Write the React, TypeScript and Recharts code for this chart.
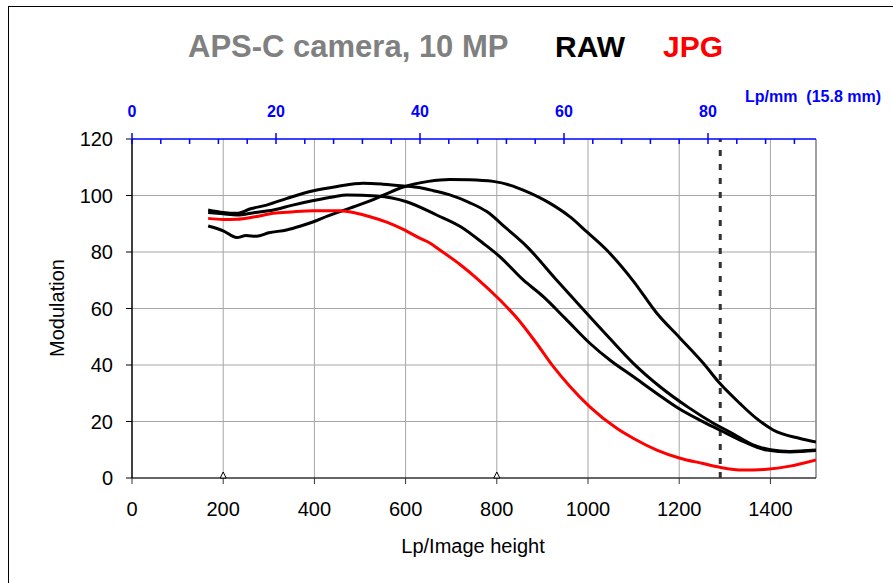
import React from "react";
import { LineChart, Line, XAxis, YAxis, ReferenceLine, ReferenceDot } from "recharts";

// Lp/Image height vs Modulation (%)
const rawLatePeak = [
  { lp: 167, mod: 89.2 }, { lp: 200, mod: 87.5 }, { lp: 230, mod: 85.1 }, { lp: 250, mod: 85.8 },
  { lp: 273, mod: 85.6 }, { lp: 300, mod: 86.8 }, { lp: 339, mod: 87.8 }, { lp: 370, mod: 89.2 },
  { lp: 398, mod: 90.7 }, { lp: 430, mod: 92.8 }, { lp: 456, mod: 94.3 }, { lp: 507, mod: 97.2 },
  { lp: 550, mod: 100.0 }, { lp: 595, mod: 103.0 }, { lp: 650, mod: 105.0 }, { lp: 697, mod: 105.7 },
  { lp: 740, mod: 105.6 }, { lp: 792, mod: 105.0 }, { lp: 830, mod: 103.6 }, { lp: 858, mod: 101.9 },
  { lp: 917, mod: 97.2 }, { lp: 960, mod: 92.5 }, { lp: 997, mod: 87.2 }, { lp: 1041, mod: 80.7 },
  { lp: 1099, mod: 69.8 }, { lp: 1151, mod: 58.3 }, { lp: 1202, mod: 49.5 }, { lp: 1253, mod: 40.6 },
  { lp: 1289, mod: 33.5 }, { lp: 1333, mod: 26.4 }, { lp: 1370, mod: 21.0 }, { lp: 1406, mod: 17.0 },
  { lp: 1465, mod: 14.0 }, { lp: 1500, mod: 12.7 },
];

const rawMidPeak = [
  { lp: 167, mod: 94.9 }, { lp: 200, mod: 94.0 }, { lp: 230, mod: 93.7 }, { lp: 260, mod: 95.3 },
  { lp: 295, mod: 96.6 }, { lp: 340, mod: 99.0 }, { lp: 398, mod: 101.7 }, { lp: 450, mod: 103.2 },
  { lp: 507, mod: 104.3 }, { lp: 550, mod: 104.0 }, { lp: 595, mod: 103.4 }, { lp: 630, mod: 102.8 },
  { lp: 661, mod: 101.7 }, { lp: 697, mod: 100.2 }, { lp: 740, mod: 97.5 }, { lp: 778, mod: 94.3 },
  { lp: 820, mod: 88.5 }, { lp: 866, mod: 81.9 }, { lp: 931, mod: 70.1 }, { lp: 997, mod: 58.3 },
  { lp: 1050, mod: 49.0 }, { lp: 1100, mod: 40.5 }, { lp: 1158, mod: 32.3 }, { lp: 1220, mod: 25.0 },
  { lp: 1275, mod: 19.4 }, { lp: 1320, mod: 15.5 }, { lp: 1362, mod: 11.7 }, { lp: 1400, mod: 10.0 },
  { lp: 1443, mod: 9.4 }, { lp: 1500, mod: 9.9 },
];

const rawEarlyPeak = [
  { lp: 167, mod: 94.0 }, { lp: 200, mod: 93.5 }, { lp: 230, mod: 93.1 }, { lp: 270, mod: 94.0 },
  { lp: 310, mod: 94.9 }, { lp: 350, mod: 96.5 }, { lp: 398, mod: 98.2 }, { lp: 440, mod: 99.5 },
  { lp: 471, mod: 100.2 }, { lp: 537, mod: 99.8 }, { lp: 602, mod: 97.8 }, { lp: 668, mod: 93.1 },
  { lp: 720, mod: 89.0 }, { lp: 770, mod: 83.1 }, { lp: 807, mod: 78.3 }, { lp: 858, mod: 70.1 },
  { lp: 902, mod: 64.2 }, { lp: 950, mod: 56.5 }, { lp: 1004, mod: 47.7 }, { lp: 1050, mod: 41.5 },
  { lp: 1099, mod: 35.9 }, { lp: 1150, mod: 30.0 }, { lp: 1200, mod: 24.5 }, { lp: 1245, mod: 20.5 },
  { lp: 1289, mod: 17.0 }, { lp: 1340, mod: 13.0 }, { lp: 1392, mod: 9.9 }, { lp: 1443, mod: 9.2 },
  { lp: 1500, mod: 9.7 },
];

const jpg = [
  { lp: 167, mod: 91.9 }, { lp: 200, mod: 91.5 }, { lp: 230, mod: 91.6 }, { lp: 270, mod: 92.5 },
  { lp: 310, mod: 93.7 }, { lp: 350, mod: 94.2 }, { lp: 398, mod: 94.6 }, { lp: 456, mod: 94.6 },
  { lp: 490, mod: 93.8 }, { lp: 522, mod: 92.5 }, { lp: 560, mod: 90.5 }, { lp: 595, mod: 88.0 },
  { lp: 632, mod: 84.8 }, { lp: 654, mod: 83.1 }, { lp: 675, mod: 80.7 }, { lp: 720, mod: 75.5 },
  { lp: 756, mod: 70.7 }, { lp: 807, mod: 63.0 }, { lp: 850, mod: 55.5 }, { lp: 887, mod: 47.7 },
  { lp: 924, mod: 39.4 }, { lp: 960, mod: 32.5 }, { lp: 1004, mod: 25.2 }, { lp: 1063, mod: 17.6 },
  { lp: 1100, mod: 14.0 }, { lp: 1151, mod: 9.9 }, { lp: 1202, mod: 7.0 }, { lp: 1250, mod: 5.2 },
  { lp: 1289, mod: 3.8 }, { lp: 1340, mod: 2.8 }, { lp: 1392, mod: 3.1 }, { lp: 1443, mod: 4.2 },
  { lp: 1500, mod: 6.4 },
];

const bottomTicks = [0, 200, 400, 600, 800, 1000, 1200, 1400];
const leftTicks = [0, 20, 40, 60, 80, 100, 120];
const topTicks = [0, 4, 8, 12, 16, 20, 24, 28, 32, 36, 40, 44, 48, 52, 56, 60, 64, 68, 72, 76, 80, 84, 88, 92];
const topAxisRange = [{ lpmm: 0 }, { lpmm: 95 }];
const gridX = [200, 400, 600, 800, 1000, 1200, 1400];
const gridY = [20, 40, 60, 80, 100];
const markerLps = [200, 800];
const nyquistLp = 1290;

const FONT = "'Liberation Sans', Arial, sans-serif";
const BLUE = "#0000ff";

const TopTick = (props: any) => {
  const { x, y, payload } = props;
  const v = payload.value;
  const major = v % 20 === 0;
  return (
    <g>
      <line x1={x} x2={x} y1={major ? y - 6 : y} y2={y + 5} stroke={BLUE} strokeWidth={1.5} />
      {major && (
        <text x={x} y={y - 22} textAnchor="middle" fill={BLUE} fontSize={16} fontWeight="bold" fontFamily={FONT}>
          {v}
        </text>
      )}
    </g>
  );
};

const Triangle = (props: any) => {
  const { cx, cy } = props;
  return (
    <polygon
      points={`${cx - 3},${cy} ${cx + 3},${cy} ${cx},${cy - 6}`}
      fill="#fff"
      stroke="#000"
      strokeWidth={1}
    />
  );
};

export default function App() {
  return (
    <div style={{ position: "fixed", left: 0, top: 0, width: 893, height: 583, overflow: "hidden", background: "#fff" }}>
      <div style={{ position: "absolute", left: 8, top: 6, width: 900, height: 600, border: "1px solid #000" }} />
      <div style={{ position: "absolute", left: 0, top: 0 }}>
        <LineChart width={893} height={583} margin={{ top: 109, right: 77, bottom: 75, left: 72 }}>
          <XAxis
            xAxisId="bottom"
            type="number"
            dataKey="lp"
            domain={[0, 1500]}
            allowDataOverflow
            ticks={bottomTicks}
            height={30}
            tickSize={6}
            tickMargin={18}
            axisLine={{ stroke: "#333", strokeWidth: 1.5 }}
            tickLine={{ stroke: "#333" }}
            tick={{ fill: "#000", fontSize: 20, fontFamily: FONT }}
          />
          <XAxis
            xAxisId="top"
            orientation="top"
            type="number"
            dataKey="lpmm"
            domain={[0, 95]}
            allowDataOverflow
            ticks={topTicks}
            height={30}
            tickSize={0}
            tickMargin={0}
            axisLine={{ stroke: BLUE, strokeWidth: 1.5 }}
            tickLine={false}
            tick={(p: any) => <TopTick {...p} />}
            interval={0}
          />
          <YAxis
            type="number"
            domain={[0, 120]}
            allowDataOverflow
            ticks={leftTicks}
            width={60}
            tickSize={6}
            tickMargin={13}
            axisLine={{ stroke: "#000", strokeWidth: 1.5 }}
            tickLine={{ stroke: "#000" }}
            tick={{ fill: "#000", fontSize: 20, fontFamily: FONT }}
          />
          {gridX.map((g) => (
            <ReferenceLine key={"gx" + g} xAxisId="bottom" x={g} stroke="#a6a6a6" strokeWidth={1} />
          ))}
          {gridY.map((g) => (
            <ReferenceLine key={"gy" + g} xAxisId="bottom" y={g} stroke="#a6a6a6" strokeWidth={1} />
          ))}
          <ReferenceLine xAxisId="bottom" x={1500} stroke="#808080" strokeWidth={1.5} />
          <ReferenceLine xAxisId="bottom" x={nyquistLp} stroke="#333" strokeWidth={3} strokeDasharray="6 8" />
          <Line xAxisId="top" data={topAxisRange} dataKey="mod" stroke="none" dot={false} isAnimationActive={false} />
          <Line xAxisId="bottom" data={rawLatePeak} dataKey="mod" stroke="#000" strokeWidth={3} dot={false} type="monotone" isAnimationActive={false} />
          <Line xAxisId="bottom" data={rawMidPeak} dataKey="mod" stroke="#000" strokeWidth={3} dot={false} type="monotone" isAnimationActive={false} />
          <Line xAxisId="bottom" data={rawEarlyPeak} dataKey="mod" stroke="#000" strokeWidth={3} dot={false} type="monotone" isAnimationActive={false} />
          <Line xAxisId="bottom" data={jpg} dataKey="mod" stroke="#ff0000" strokeWidth={3} dot={false} type="monotone" isAnimationActive={false} />
          {markerLps.map((m) => (
            <ReferenceDot key={m} xAxisId="bottom" x={m} y={0} r={3} ifOverflow="visible" shape={Triangle} />
          ))}
        </LineChart>
      </div>
      <svg width={893} height={583} style={{ position: "absolute", left: 0, top: 0, pointerEvents: "none" }}>
        <text x={188} y={57} fontSize={31} fontWeight="bold" fill="#808080" fontFamily={FONT}>APS-C camera, 10 MP</text>
        <text x={555} y={57} fontSize={30} fontWeight="bold" fill="#000" fontFamily={FONT}>RAW</text>
        <text x={663} y={57} fontSize={30} fontWeight="bold" fill="#ff0000" fontFamily={FONT}>JPG</text>
        <text x={745} y={102} fontSize={16} fontWeight="bold" fill={BLUE} fontFamily={FONT} xmlSpace="preserve">Lp/mm  (15.8 mm)</text>
        <text x={473} y={553} fontSize={20} fill="#000" textAnchor="middle" fontFamily={FONT}>Lp/Image height</text>
        <text x={0} y={0} fontSize={20} fill="#000" textAnchor="middle" fontFamily={FONT} transform="translate(64 308) rotate(-90)">Modulation</text>
      </svg>
    </div>
  );
}
